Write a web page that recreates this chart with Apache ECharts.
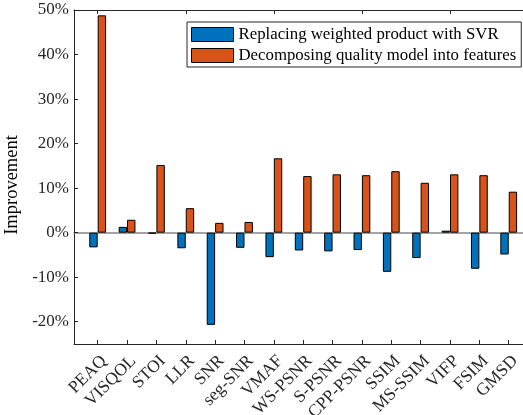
<!DOCTYPE html>
<html>
<head>
<meta charset="utf-8">
<script src="https://cdn.jsdelivr.net/npm/echarts@6/dist/echarts.min.js"></script>
<style>
html,body{margin:0;padding:0;background:#fff;}
#chart{width:523px;height:415px;}
</style>
</head>
<body>
<div id="chart"></div>
<script>
const categories = ['PEAQ','VISQOL','STOI','LLR','SNR','seg-SNR','VMAF','WS-PSNR','S-PSNR','CPP-PSNR','SSIM','MS-SSIM','VIFP','FSIM','GMSD'];
const seriesNames = ['Replacing weighted product with SVR','Decomposing quality model into features'];
const svrValues = [-3.3, 1.3, -0.2, -3.5, -20.7, -3.4, -5.5, -4.0, -4.2, -3.9, -8.8, -5.7, 0.45, -8.1, -4.9];
const featureValues = [48.8, 2.9, 15.2, 5.5, 2.2, 2.4, 16.7, 12.7, 13.1, 12.9, 13.8, 11.2, 13.1, 12.9, 9.2];
const yMin = -25, yMax = 50;

const FONT = '"Liberation Serif", "Times New Roman", serif';
const AX = '#262626';

const chart = echarts.init(document.getElementById('chart'));
chart.setOption({
  animation: false,
  backgroundColor: '#fff',
  textStyle: { fontFamily: FONT },
  grid: [
    { left: 74, top: 10, width: 458, height: 334, outerBoundsMode: 'none', containLabel: false },
    { left: 83, top: 10, width: 440.4, height: 334, outerBoundsMode: 'none', containLabel: false }
  ],
  legend: {
    orient: 'vertical',
    left: 187, top: 22,
    padding: [4, 5, 3, 4],
    icon: 'rect',
    itemWidth: 42, itemHeight: 14, itemGap: 4,
    backgroundColor: '#fff',
    borderColor: AX, borderWidth: 1,
    textStyle: { fontFamily: FONT, fontSize: 16.8, color: '#000', lineHeight: 16 },
    itemStyle: { borderColor: '#000', borderWidth: 1 },
    data: seriesNames
  },
  xAxis: [
    { gridIndex: 0, type: 'value', min: 0, max: 1, position: 'bottom',
      axisLine: { show: true, onZero: false, lineStyle: { color: AX, width: 1 } },
      axisTick: { show: false }, axisLabel: { show: false }, splitLine: { show: false } },
    { gridIndex: 0, type: 'value', min: 0, max: 1, position: 'top',
      axisLine: { show: true, onZero: false, lineStyle: { color: AX, width: 1 } },
      axisTick: { show: false }, axisLabel: { show: false }, splitLine: { show: false } },
    { gridIndex: 0, type: 'value', min: 0, max: 1, position: 'bottom',
      axisLine: { show: true, onZero: true, lineStyle: { color: '#858585', width: 1.6 } },
      axisTick: { show: false }, axisLabel: { show: false }, splitLine: { show: false } },
    { gridIndex: 1, type: 'category', data: categories, position: 'bottom',
      axisLine: { show: false, onZero: false },
      axisTick: { show: true, inside: true, alignWithLabel: true, length: 4, lineStyle: { color: AX } },
      axisLabel: { rotate: 45, margin: 8, verticalAlign: 'top', fontFamily: FONT, fontSize: 17.5, color: AX, interval: 0 },
      splitLine: { show: false } },
    { gridIndex: 1, type: 'category', data: categories, position: 'top',
      axisLine: { show: false, onZero: false },
      axisTick: { show: true, inside: true, alignWithLabel: true, length: 4, lineStyle: { color: AX } },
      axisLabel: { show: false }, splitLine: { show: false } }
  ],
  yAxis: [
    { gridIndex: 0, type: 'value', min: yMin, max: yMax, splitNumber: 8, minInterval: 10, maxInterval: 10,
      axisLine: { show: true, lineStyle: { color: AX, width: 1 } },
      axisTick: { show: true, inside: true, length: 4, lineStyle: { color: AX } },
      axisLabel: { margin: 5, fontFamily: FONT, fontSize: 17, color: AX,
        formatter: v => (Math.round(v) % 10 === 0 ? Math.round(v) + '%' : '') },
      splitLine: { show: false },
      name: 'Improvement', nameLocation: 'middle', nameGap: 45,
      nameTextStyle: { fontFamily: FONT, fontSize: 18.5, color: '#000', padding: [0, 16, 0, 0] } },
    { gridIndex: 1, type: 'value', min: yMin, max: yMax, show: false, splitLine: { show: false } }
  ],
  series: [
    { name: seriesNames[0], type: 'bar', xAxisIndex: 3, yAxisIndex: 1, data: svrValues,
      barWidth: 8.4, barGap: '0%',
      itemStyle: { color: '#0072BD', borderColor: '#000', borderWidth: 1 } },
    { name: seriesNames[1], type: 'bar', xAxisIndex: 3, yAxisIndex: 1, data: featureValues,
      barWidth: 8.4, barGap: '0%',
      itemStyle: { color: '#D95319', borderColor: '#000', borderWidth: 1 } }
  ]
});
</script>
</body>
</html>
